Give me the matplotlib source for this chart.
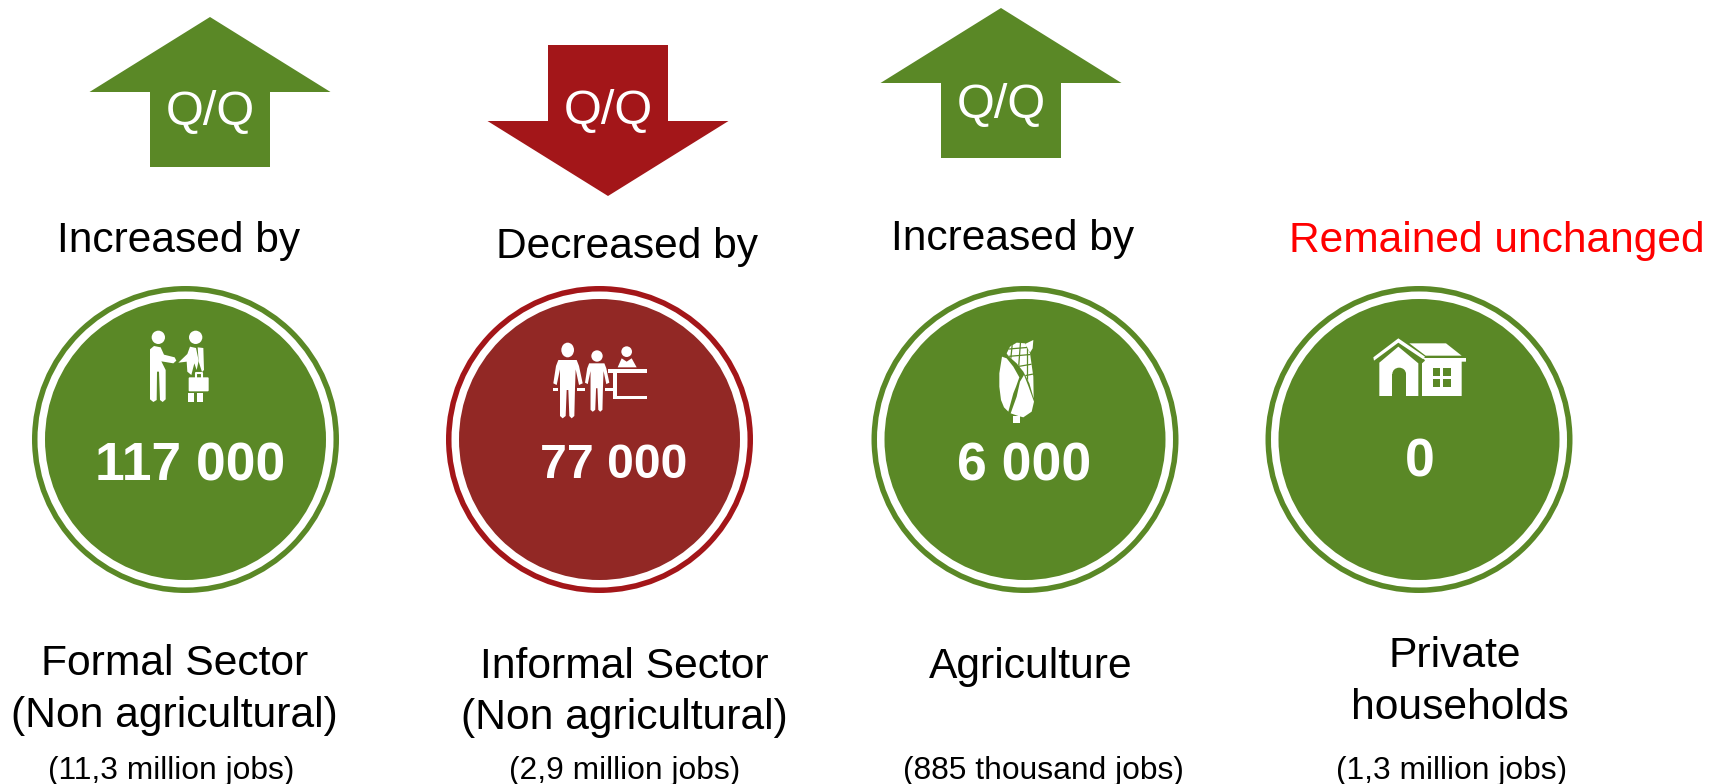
import matplotlib
matplotlib.use("Agg")
import matplotlib.pyplot as plt
from matplotlib.patches import Circle, Ellipse, Polygon, Rectangle, FancyBboxPatch

plt.rcParams["font.family"] = ["Liberation Sans", "DejaVu Sans"]

GREEN = "#5a8826"
RED_RING = "#a31619"
RED_FILL = "#922825"

# chart content
changes = ["Increased by", "Decreased by", "Increased by", "Remained unchanged"]
values = ["117 000", "77 000", "6 000", "0"]
sectors = [["Formal Sector", "(Non agricultural)"],
           ["Informal Sector", "(Non agricultural)"],
           ["Agriculture"],
           ["Private", "households"]]
jobs = ["(11,3 million jobs)", "(2,9 million jobs)", "(885 thousand jobs)", "(1,3 million jobs)"]
directions = ["up", "down", "up", None]

# layout, in reference pixels
circle_x = [185.5, 599.5, 1025, 1419]
circle_y = 439.5
change_pos = [(179, 241), (627, 247), (1013, 239), (1497, 241)]
value_pos = [(190, 466), (613.5, 465), (1024, 466), (1420, 462.5)]
value_size = [38.4, 34.7, 38.5, 38.5]
sector_pos = [[(175, 664), (174, 716)], [(624, 667), (624, 718)], [(1031, 667)], [(1455, 656), (1460, 708)]]
job_x = [171.5, 625, 1043, 1452]
arrow_x = [210, 608, 1001]
arrow_top = [17, 45, 8]
q_y = [112, 111, 105]

fig = plt.figure(figsize=(17.23, 7.84), dpi=100)
ax = fig.add_axes([0, 0, 1, 1])
ax.set_xlim(0, 1723)
ax.set_ylim(784, 0)
ax.axis("off")


def poly(pts, ox, oy, color="white", s=1 / 3, z=4):
    p = Polygon([(ox + x * s, oy + y * s) for x, y in pts], closed=True, fc=color, ec="none", zorder=z)
    ax.add_patch(p)
    return p


def rect(x0, y0, x1, y1, ox, oy, color="white", z=4):
    ax.add_patch(Rectangle((ox + x0 / 3, oy + y0 / 3), (x1 - x0) / 3, (y1 - y0) / 3, fc=color, ec="none", zorder=z))


def disc(x, y, r, ox, oy, color="white", z=4):
    ax.add_patch(Circle((ox + x / 3, oy + y / 3), r / 3, fc=color, ec="none", zorder=z))


def draw_arrow(cx, top, direction, color):
    half_w = 120.5
    half_s = 60
    if direction == "up":
        pts = [(cx, top), (cx + half_w, top + 75), (cx + half_s, top + 75),
               (cx + half_s, top + 150), (cx - half_s, top + 150),
               (cx - half_s, top + 75), (cx - half_w, top + 75)]
    else:
        pts = [(cx - half_s, top), (cx + half_s, top), (cx + half_s, top + 76),
               (cx + half_w, top + 76), (cx, top + 151), (cx - half_w, top + 76),
               (cx - half_s, top + 76)]
    ax.add_patch(Polygon(pts, closed=True, fc=color, ec="none"))


def handshake():
    ox, oy = 130, 320
    disc(85, 52, 20, ox, oy)
    disc(197, 52, 20, ox, oy)
    poly([(60, 88), (72, 78), (92, 82), (102, 104), (134, 112), (139, 122), (130, 130), (94, 124),
          (107, 150), (107, 238), (98, 246), (90, 240), (87, 155), (81, 155), (80, 240), (70, 246),
          (60, 238)], ox, oy)
    poly([(145, 128), (172, 102), (180, 80), (198, 84), (206, 122), (200, 150), (193, 130), (184, 165),
          (172, 155), (170, 125)], ox, oy)
    poly([(203, 82), (220, 84), (222, 150), (216, 156), (206, 125)], ox, oy)
    ax.add_patch(FancyBboxPatch((ox + 176 / 3, oy + 172 / 3), 60 / 3, 42 / 3, boxstyle="round,pad=0,rounding_size=1",
                                fc="white", ec="none", zorder=4))
    ax.plot([ox + 197 / 3, ox + 197 / 3, ox + 216 / 3, ox + 216 / 3],
            [oy + 172 / 3, oy + 158 / 3, oy + 158 / 3, oy + 172 / 3], color="white", lw=1.5, zorder=4)
    rect(174, 220, 192, 245, ox, oy)
    rect(200, 220, 220, 245, ox, oy)


PERSON = [(55, 90), (110, 90), (117, 108), (128, 160), (117, 165), (107, 118), (105, 175), (103, 258), (95, 265),
          (88, 258), (85, 180), (80, 180), (77, 258), (68, 265), (60, 258), (60, 175), (60, 118), (50, 165),
          (40, 160), (48, 108)]


def reception():
    ox, oy = 540, 330
    for x0, x1 in [(38, 55), (112, 135), (195, 222)]:
        rect(x0, 174, x1, 184, ox, oy)
    ax.add_patch(Ellipse((ox + 83 / 3, oy + 60 / 3), 38 / 3, 44 / 3, fc="white", ec="none", zorder=4))
    poly(PERSON, ox, oy)
    disc(171, 78, 17, ox, oy)
    small = [(135 + (x - 40) * 0.83, 100 + (y - 90) * 0.83) for x, y in PERSON]
    poly(small, ox, oy)
    disc(260, 65, 16, ox, oy)
    poly([(233, 112), (245, 85), (260, 95), (275, 85), (290, 112)], ox, oy)
    rect(205, 118, 322, 128, ox, oy)
    rect(218, 128, 230, 208, ox, oy)
    rect(225, 198, 322, 208, ox, oy)


def corn():
    ox, oy = 980, 330
    cob = poly([(80, 70), (90, 50), (110, 38), (135, 40), (150, 70), (160, 140), (161, 205), (148, 160),
                (130, 125), (110, 100), (85, 78)], ox, oy)
    for x0, y0, x1, y1 in [(75, 58, 170, 50), (75, 80, 170, 72), (100, 112, 170, 100), (120, 140, 170, 130),
                           (98, 30, 92, 90), (122, 30, 116, 110), (142, 30, 142, 150)]:
        ln, = ax.plot([ox + x0 / 3, ox + x1 / 3], [oy + y0 / 3, oy + y1 / 3], color=GREEN, lw=0.9, zorder=5)
        ln.set_clip_path(cob)
    poly([(135, 42), (160, 30), (158, 55), (150, 68)], ox, oy)
    poly([(66, 80), (80, 85), (100, 110), (118, 142), (108, 170), (100, 190), (85, 245), (72, 232), (63, 210),
          (58, 170), (58, 130)], ox, oy)
    poly([(120, 155), (132, 135), (145, 168), (162, 215), (155, 245), (130, 262), (115, 258), (92, 250), (110, 200)],
         ox, oy)
    rect(100, 258, 120, 278, ox, oy)


def house():
    ox, oy = 1360, 330
    poly([(40, 82), (115, 25), (195, 80), (190, 88), (115, 38), (42, 92)], ox, oy)
    poly([(58, 98), (115, 50), (175, 100), (175, 198), (58, 198)], ox, oy)
    rect(97, 132, 138, 200, ox, oy, color=GREEN, z=5)
    ax.add_patch(Ellipse((ox + 117.5 / 3, oy + 132 / 3), 41 / 3, 38 / 3, fc=GREEN, ec="none", zorder=5))
    poly([(148, 40), (258, 40), (305, 77), (197, 77)], ox, oy)
    poly([(190, 84), (318, 84), (318, 95), (305, 95), (305, 198), (186, 198), (186, 100), (195, 92)], ox, oy)
    for x0, x1 in [(218, 240), (250, 273)]:
        for y0, y1 in [(115, 138), (148, 171)]:
            rect(x0, y0, x1, y1, ox, oy, color=GREEN, z=5)


for i in range(4):
    down = directions[i] == "down"
    ring = RED_RING if down else GREEN
    fill = RED_FILL if down else GREEN
    cx = circle_x[i]
    ax.add_patch(Circle((cx, circle_y), 153.5, fc=ring, ec="none", zorder=1))
    ax.add_patch(Circle((cx, circle_y), 148, fc="white", ec="none", zorder=2))
    ax.add_patch(Circle((cx, circle_y), 140.5, fc=fill, ec="none", zorder=3))

    if directions[i] is not None:
        draw_arrow(arrow_x[i], arrow_top[i], directions[i], RED_RING if down else GREEN)
        ax.text(arrow_x[i], q_y[i], "Q/Q", color="white", fontsize=35, ha="center", va="center")

    ax.text(*change_pos[i], changes[i], color="#ff0000" if directions[i] is None else "black",
            fontsize=30.6, ha="center", va="center")
    ax.text(*value_pos[i], values[i], color="white", fontsize=value_size[i], fontweight="bold",
            ha="center", va="center", zorder=6)
    for line, pos in zip(sectors[i], sector_pos[i]):
        ax.text(*pos, line, color="black", fontsize=30.7, ha="center", va="center")
    ax.text(job_x[i], 771, jobs[i], color="black", fontsize=22.9, ha="center", va="center")

handshake()
reception()
corn()
house()

fig.savefig("out.png", dpi=100, facecolor="white")
